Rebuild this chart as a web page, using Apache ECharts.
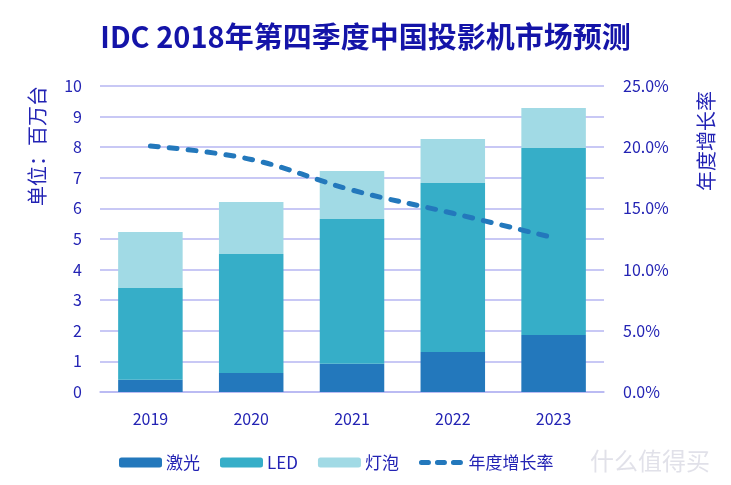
<!DOCTYPE html>
<html><head><meta charset="utf-8">
<script src="https://cdn.jsdelivr.net/npm/echarts@6/dist/echarts.min.js"></script>
<style>html,body{margin:0;padding:0;background:#fff}#c{width:731px;height:485px}</style>
</head><body><div id="c"></div>
<script>
const categories = ['2019','2020','2021','2022','2023'];
const laser = [0.40, 0.62, 0.92, 1.31, 1.86];
const led = [3.00, 3.89, 4.73, 5.52, 6.11];
const bulb = [1.83, 1.70, 1.57, 1.44, 1.31];
const growth = [20.1, 19.0, 16.5, 14.6, 12.6];
const leftTicks = {min:0, max:10, interval:1};
const rightTicks = {min:0, max:25, interval:5};

const FONT = '"Noto Sans CJK SC", "Noto Sans", sans-serif';
const TXT = '#2323b4';
const GRID = '#b6b6f2';
const chart = echarts.init(document.getElementById('c'));
chart.setOption({
  animation:false,
  textStyle:{fontFamily:FONT},
  title:{text:'IDC 2018年第四季度中国投影机市场预测', left:'center', top:17,
    textStyle:{fontFamily:FONT, fontSize:29, fontWeight:'bold', color:'#1414a8'}},
  grid:{left:100, right:127, top:86, bottom:93},
  legend:{bottom:9, left:114, itemWidth:43, itemHeight:10, itemGap:20,
    textStyle:{fontFamily:FONT, fontSize:17, color:TXT, padding:[0,0,0,-1]},
    data:['激光','LED','灯泡',
      {name:'年度增长率', itemStyle:{opacity:0},
       lineStyle:{width:5, type:[7,9], cap:'round', color:'#2378bc'}}]},
  xAxis:{type:'category', data:categories,
    axisLine:{lineStyle:{color:GRID, width:1.5}}, axisTick:{show:false},
    axisLabel:{color:TXT, fontSize:16, margin:19, fontFamily:FONT}},
  yAxis:[
    {type:'value', min:leftTicks.min, max:leftTicks.max, interval:leftTicks.interval,
     axisLine:{show:false}, axisTick:{show:false},
     splitLine:{lineStyle:{color:GRID, width:1.5}},
     axisLabel:{color:TXT, fontSize:16, margin:18, fontFamily:FONT}},
    {type:'value', min:rightTicks.min, max:rightTicks.max, interval:rightTicks.interval,
     axisLine:{show:false}, axisTick:{show:false}, splitLine:{show:false},
     axisLabel:{color:TXT, fontSize:16, margin:19, fontFamily:FONT,
       formatter:v=>v.toFixed(1)+'%'}}
  ],
  graphic:[
    {type:'text', x:37, y:146, rotation:Math.PI/2,
     style:{text:'单位：百万台', fill:TXT, font:'20px '+FONT, align:'center', verticalAlign:'middle'}},
    {type:'text', x:706, y:141, rotation:Math.PI/2,
     style:{text:'年度增长率', fill:TXT, font:'20px '+FONT, align:'center', verticalAlign:'middle'}},
    {type:'text', x:650, y:461,
     style:{text:'什么值得买', fill:'rgba(180,180,200,0.4)', font:'24px '+FONT, align:'center', verticalAlign:'middle'}}
  ],
  series:[
    {name:'激光', type:'bar', stack:'t', data:laser, barWidth:'64%', itemStyle:{color:'#2378bc'}},
    {name:'LED', type:'bar', stack:'t', data:led, barWidth:'64%', itemStyle:{color:'#36aec8'}},
    {name:'灯泡', type:'bar', stack:'t', data:bulb, barWidth:'64%', itemStyle:{color:'#a1dae5'}},
    {name:'年度增长率', type:'line', yAxisIndex:1, data:growth, smooth:0.4, symbol:'none',
     lineStyle:{color:'#2378bc', width:5, type:[8,11], cap:'round'}, itemStyle:{color:'#2378bc'}, z:5}
  ]
});
</script></body></html>
